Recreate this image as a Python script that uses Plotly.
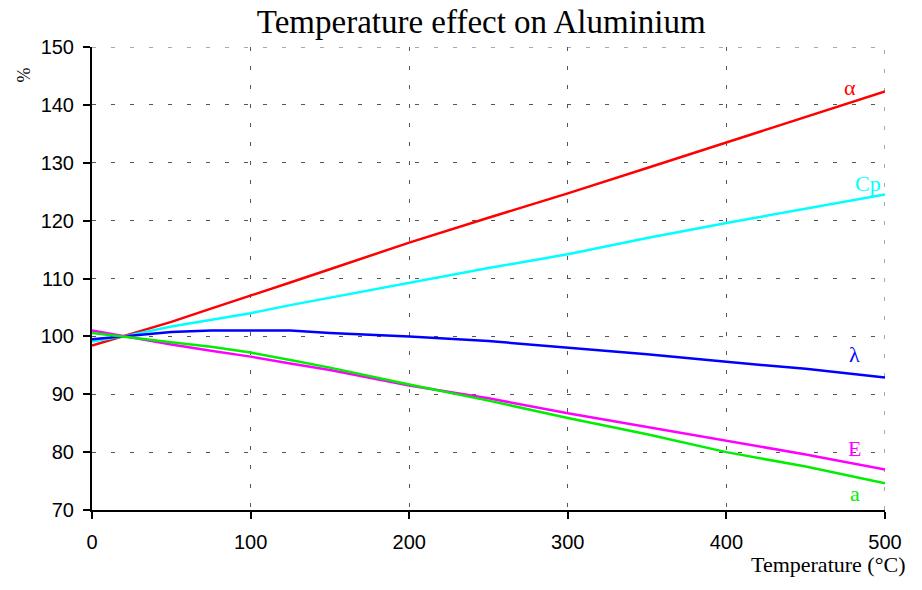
import plotly.graph_objects as go

temperature = [0, 20, 50, 75, 100, 125, 150, 200, 250, 300, 350, 400, 450, 500]
alpha = [98.4, 100.0, 102.5, 104.8, 107.0, 109.3, 111.6, 116.2, 120.5, 124.7, 129.1, 133.5, 137.8, 142.3]
cp = [99.1, 100.0, 101.7, 102.9, 104.0, 105.4, 106.7, 109.3, 111.8, 114.2, 117.0, 119.6, 122.0, 124.5]
lam = [99.5, 100.0, 100.75, 101.0, 101.0, 101.0, 100.6, 100.0, 99.2, 98.1, 96.9, 95.6, 94.4, 92.9]
E = [101.0, 100.0, 98.6, 97.5, 96.5, 95.3, 94.2, 91.5, 89.3, 86.7, 84.3, 82.0, 79.6, 77.0]
a = [100.6, 100.0, 99.0, 98.2, 97.2, 95.9, 94.6, 91.7, 88.9, 85.9, 83.1, 80.0, 77.5, 74.6]

# name, values, colour, label y, label x
series = [
    ("α", alpha, "#ff0000", 143.0, 478),
    ("Cp", cp, "#00ffff", 126.5, 489),
    ("λ", lam, "#0000ff", 96.8, 481),
    ("E", E, "#ff00ff", 80.6, 481),
    ("a", a, "#00ee00", 72.9, 481),
]

fig = go.Figure()
for name, vals, color, ly, lx in series:
    fig.add_trace(go.Scatter(x=temperature, y=vals, mode="lines", name=name,
                             line=dict(color=color, width=2.5), showlegend=False))
    fig.add_annotation(x=lx, y=ly, text=name, showarrow=False,
                       xanchor="center", yanchor="middle",
                       font=dict(family="Liberation Serif", size=22, color=color))

grid_style = dict(color="#555555", width=1, dash="4px,15px")
fig.add_shape(type="line", xref="x", yref="y", x0=0, x1=500, y0=150, y1=150,
              line=grid_style, layer="below")
fig.add_shape(type="line", xref="x", yref="y", x0=500, x1=500, y0=70, y1=150,
              line=grid_style, layer="below")

fig.update_layout(
    width=922, height=590,
    margin=dict(l=92, r=37, t=47, b=80),
    paper_bgcolor="white", plot_bgcolor="white",
    title=dict(text="Temperature effect on Aluminium", x=0.522, xanchor="center",
               y=0.983, yanchor="top",
               font=dict(family="Liberation Serif", size=33, color="black")),
)
fig.update_xaxes(range=[0, 500], tickvals=[0, 100, 200, 300, 400, 500],
                 showline=True, linecolor="black", linewidth=2,
                 ticks="outside", ticklen=7, tickwidth=2, tickcolor="black",
                 ticklabelstandoff=6,
                 showgrid=True, gridcolor="#555555", gridwidth=1, griddash="4px,15px",
                 zeroline=False,
                 tickfont=dict(family="Liberation Sans", size=20, color="black"))
fig.update_yaxes(range=[70, 150], tickvals=list(range(70, 151, 10)),
                 showline=True, linecolor="black", linewidth=2,
                 ticks="outside", ticklen=7, tickwidth=2, tickcolor="black",
                 ticklabelstandoff=5,
                 showgrid=True, gridcolor="#555555", gridwidth=1, griddash="4px,15px",
                 zeroline=False,
                 tickfont=dict(family="Liberation Sans", size=20, color="black"))

fig.add_annotation(text="Temperature (°C)", xref="paper", yref="paper", x=1.028, y=-0.118,
                   xanchor="right", yanchor="middle", showarrow=False,
                   font=dict(family="Liberation Serif", size=22, color="black"))
fig.add_annotation(text="%", xref="paper", yref="paper", x=-0.086, y=0.94,
                   xanchor="center", yanchor="middle", showarrow=False, textangle=-90,
                   font=dict(family="Liberation Serif", size=18, color="black"))

fig.write_html("out.html")
